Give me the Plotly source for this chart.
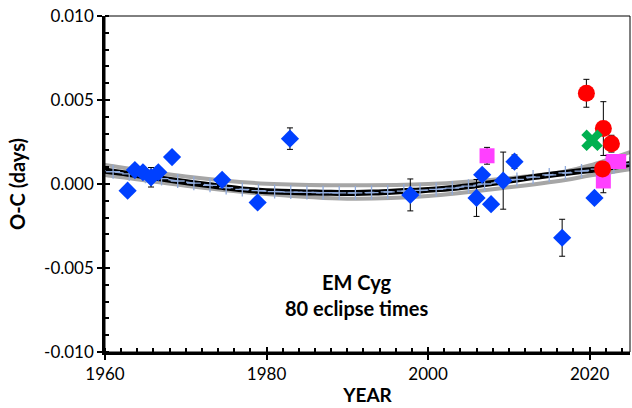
import plotly.graph_objects as go

# ---- data ----
blue_year = [1962.8, 1963.7, 1964.7, 1965.7, 1966.6, 1968.3, 1974.5, 1978.9, 1982.9,
             1997.8, 2006.0, 2006.7, 2007.8, 2009.3, 2010.7, 2016.6, 2020.6]
blue_oc = [-0.0004, 0.00083, 0.0007, 0.0004, 0.0007, 0.0016, 0.00025, -0.0011, 0.0027,
           -0.00065, -0.00083, 0.00055, -0.0012, 0.0002, 0.00133, -0.0032, -0.00083]
blue_err = [0, 0, 0, 0.00058, 0, 0, 0, 0, 0.00064,
            0.00095, 0.0011, 0, 0.0003, 0.0017, 0.0004, 0.0011, 0]

pink_year = [2007.3, 2021.7, 2022.9, 2023.6]
pink_oc = [0.00168, 0.00018, 0.00134, 0.00134]
pink_err = [0.0005, 0.0007, 0, 0]

red_year = [2019.6, 2021.7, 2021.6, 2022.7]
red_oc = [0.0054, 0.0033, 0.0009, 0.0024]
red_err = [0.00083, 0.0016, 0, 0.0005]

green_year = [2020.3]
green_oc = [0.0026]

fit_year = [1959, 1961, 1963, 1965, 1967, 1969, 1971, 1973, 1975, 1977, 1979, 1981, 1983,
            1985, 1987, 1989, 1991, 1993, 1995, 1997, 1999, 2001, 2003, 2005, 2007, 2009,
            2011, 2013, 2015, 2017, 2019, 2021, 2023, 2025]
fit_oc = [0.00086, 0.00073, 0.0006, 0.00046, 0.00032, 0.00018, 0.00005, -0.00008, -0.00021,
          -0.00032, -0.0004, -0.00045, -0.00048, -0.0005, -0.00052, -0.00053, -0.00053,
          -0.00051, -0.00047, -0.00042, -0.00038, -0.00032, -0.00024, -0.00013, 0.0,
          0.00013, 0.00027, 0.00041, 0.00054, 0.00066, 0.00077, 0.00088, 0.00103, 0.0012]

band_year = [1959, 1960, 1970, 1980, 1990, 2000, 2010, 2017, 2020, 2025]
band_hi = [0.0012, 0.00113, 0.00045, 0.00002, -0.00007, 0.0, 0.00035, 0.00075, 0.0011, 0.0019]
band_lo = [0.0006, 0.00054, -0.0001, -0.0006, -0.00088, -0.00072, -0.0002, 0.00024, 0.0005, 0.00088]

x_ticks = [1960, 1980, 2000, 2020]
y_ticks = [0.010, 0.005, 0.0, -0.005, -0.010]
y_ticktext = ["0.010", "0.005", "0.000", "-0.005", "-0.010"]

FONT = "Lato, 'Open Sans', sans-serif"

fig = go.Figure()

for yy in (band_hi, band_lo):
    fig.add_trace(go.Scatter(x=band_year, y=yy, mode="lines", line=dict(color="#A6A6A6", width=4, shape="spline"),
                             hoverinfo="skip"))
fig.add_trace(go.Scatter(x=fit_year, y=fit_oc, mode="lines", line=dict(color="black", width=6, shape="spline")))
fig.add_trace(go.Scatter(x=fit_year, y=fit_oc, mode="lines+markers",
                         line=dict(color="#8FAADC", width=1.5, dash="dash", shape="spline"),
                         marker=dict(symbol="cross-thin", size=10, line=dict(color="#8FAADC", width=1.3))))

errstyle = dict(type="data", color="black", thickness=1, width=3)

fig.add_trace(go.Scatter(x=blue_year, y=blue_oc, mode="markers",
                         marker=dict(symbol="diamond", size=14, color="#0040FF"),
                         error_y=dict(array=blue_err, **errstyle)))
fig.add_trace(go.Scatter(x=pink_year, y=pink_oc, mode="markers",
                         marker=dict(symbol="square", size=15, color="#FF40FF"),
                         error_y=dict(array=pink_err, **errstyle)))
fig.add_trace(go.Scatter(x=red_year, y=red_oc, mode="markers",
                         marker=dict(symbol="circle", size=17, color="#FF0000"),
                         error_y=dict(array=red_err, **errstyle)))
fig.add_trace(go.Scatter(x=green_year, y=green_oc, mode="markers",
                         marker=dict(symbol="x", size=19, color="#00B050")))

fig.add_annotation(x=0.479, y=0.17, xref="paper", yref="paper", showarrow=False,
                   xanchor="center", yanchor="middle",
                   text="<b>EM Cyg<br>80 eclipse times</b>", font=dict(family=FONT, size=20, color="black"),
                   align="center")

fig.update_layout(
    width=632, height=408, margin=dict(l=105, r=2, t=16, b=56),
    paper_bgcolor="white", plot_bgcolor="white", showlegend=False,
    font=dict(family=FONT, size=17, color="black"),
    xaxis=dict(range=[1960, 2025], tickvals=x_ticks, ticks="outside", ticklen=5, tickwidth=2,
               tickcolor="black", showline=True, linewidth=2.5, linecolor="black", showgrid=False,
               zeroline=False, minor=dict(dtick=2, tick0=1960, ticks="inside", ticklen=4, tickwidth=1.5,
                                          tickcolor="black", showgrid=False),
               title=dict(text="<b>YEAR</b>", font=dict(size=19), standoff=6)),
    yaxis=dict(range=[-0.010, 0.010], tickvals=y_ticks, ticktext=y_ticktext, ticks="outside",
               ticklen=5, tickwidth=2, tickcolor="black", showline=True, linewidth=2.5,
               linecolor="black", showgrid=False, zeroline=False,
               minor=dict(dtick=0.001, tick0=0, ticks="inside", ticklen=4, tickwidth=1.5,
                          tickcolor="black", showgrid=False),
               title=dict(text="<b>O-C (days)</b>", font=dict(size=20), standoff=14)),
    xaxis2=dict(range=[1960, 2025], overlaying="x", anchor="y", side="bottom", tickvals=x_ticks,
                ticks="inside", ticklen=5, tickwidth=2, tickcolor="black", showticklabels=False,
                showgrid=False, zeroline=False, showline=False),
    yaxis2=dict(range=[-0.010, 0.010], overlaying="y", anchor="x", side="left", tickvals=y_ticks,
                ticks="inside", ticklen=5, tickwidth=2, tickcolor="black", showticklabels=False,
                showgrid=False, zeroline=False, showline=False),
    shapes=[dict(type="rect", xref="paper", yref="paper", x0=0, y0=0, x1=1, y1=1,
                 line=dict(color="black", width=1), layer="above")],
)
fig.add_trace(go.Scatter(x=[None], y=[None], xaxis="x2", yaxis="y2", showlegend=False))

fig.write_html("out.html")
